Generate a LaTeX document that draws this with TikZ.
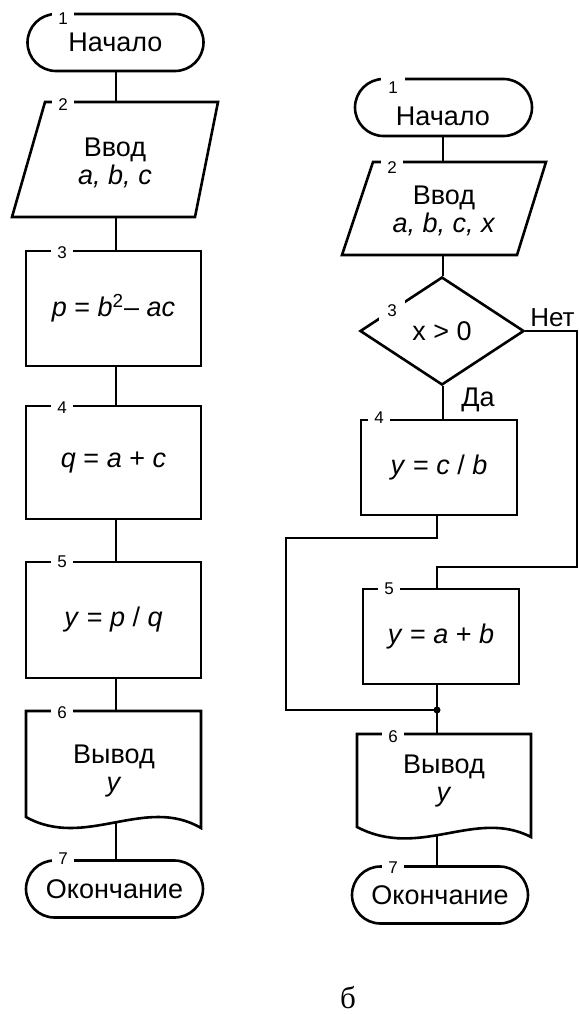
\documentclass[tikz,border=0pt]{standalone}
\usepackage{fontspec}
\setmainfont{Liberation Sans}
\newfontfamily\capserif{Liberation Serif}
\usetikzlibrary{shapes.misc,shapes.geometric}
\newcommand\mainsz{\fontsize{27}{28}\selectfont}
\newcommand\numsz{\fontsize{17}{17}\selectfont}
\begin{document}
\begin{tikzpicture}[x=1pt,y=-1pt,line width=2.6pt,
  every node/.style={font=\mainsz},
  term/.style={rounded rectangle, draw, inner sep=0pt, minimum height=57pt},
  box/.style={rectangle, draw, inner sep=0pt},
  txt/.style={inner sep=0pt, align=center},
  dec/.style={diamond, draw, inner sep=0pt, minimum width=164pt, minimum height=108pt},
  num/.style={fill=white, inner xsep=6pt, inner ysep=3pt, font=\numsz}]
\useasboundingbox (0,0) rectangle (578,1014);

% ---------- left column ----------
\node[term, minimum width=176pt] (L1) at (115.5,42.5) {Начало};
\draw (45,102) -- (218,102) -- (195,217) -- (12,217) -- cycle;
\coordinate (L2t) at (116,102);
\coordinate (L2b) at (116,217);
\node[txt] (L2) at (115,162.5) {Ввод\\\textit{a, b, c}};
\node[box, minimum width=175pt, minimum height=115pt] (L3) at (113.5,308.5) {\textit{p} = \textit{b}\textsuperscript{2}\kern0.5pt– \textit{ac}};
\node[box, minimum width=175pt, minimum height=113pt] (L4) at (113.5,462.5) {\textit{q} = \textit{a} + \textit{c}};
\node[box, minimum width=175pt, minimum height=116pt] (L5) at (113.5,620) {\textit{y} = \textit{p} / \textit{q}};
\draw (26,817) -- (26,711) -- (201,711) -- (201,828) .. controls (145,795) and (85,850) .. (26,817) -- cycle;
\coordinate (L6t) at (116,711);
\coordinate (L6b) at (116,821);
\node[txt] (L6) at (114,771) {Вывод\\\textit{y}};
\node[term, minimum width=177pt] (L7) at (114.5,889) {Окончание};

\draw (L2t |- L1.south) -- (L2t);
\draw (L2b) -- (L2b |- L3.north);
\draw (L2b |- L3.south) -- (L2b |- L4.north);
\draw (L2b |- L4.south) -- (L2b |- L5.north);
\draw (L2b |- L5.south) -- (L6t);
\draw (L6b) -- (L6b |- L7.north);

\node[num] (n1) at (63,19) {1};
\node[num] (n2) at (63,104.5) {2};
\node[num] (n3) at (62,253) {3};
\node[num] (n4) at (62,408) {4};
\node[num] (n5) at (62,562) {5};
\node[num] (n6) at (62,713) {6};
\node[num] (n7) at (63,859) {7};

% ---------- right column ----------
\node[term, minimum width=177pt] (R1) at (443.5,107.5) {};
\node[txt] (R1x) at (443,116.5) {Начало};
\draw (373,162) -- (546,162) -- (517,255) -- (342,255) -- cycle;
\coordinate (R2t) at (443,162);
\coordinate (R2b) at (443,255);
\node[txt] (R2) at (444,211) {Ввод\\\textit{a, b, c, x}};
\node[dec] (R3) at (442,331) {x > 0};
\node[box, minimum width=156pt, minimum height=95pt] (R4) at (439,467.5) {\textit{y} = \textit{c} / \textit{b}};
\node[box, minimum width=156pt, minimum height=95pt] (R5) at (441,636.5) {\textit{y} = \textit{a} + \textit{b}};
\draw (357,827) -- (357,734) -- (531,734) -- (531,837) .. controls (475,808) and (420,860) .. (357,827) -- cycle;
\coordinate (R6t) at (437,734);
\coordinate (R6b) at (437,834);
\node[txt] (R6) at (444,781) {Вывод\\\textit{y}};
\node[term, minimum width=176pt] (R7) at (440,895) {Окончание};

\coordinate (tr) at (437,567);
\coordinate (edge) at (577,567);
\coordinate (bl) at (286,538);
\coordinate (j) at (437,710);

\draw (R2t |- R1.south) -- (R2t);
\draw (R2b) -- (R2b |- R3.north);
\draw (R2b |- R3.south) -- (R2b |- R4.north);
\draw (R3.east) -| (edge) -- (tr) -- (tr |- R5.north);
\draw (tr |- R4.south) -- (tr |- bl) -- (bl) -- (bl |- j) -- (j);
\draw (tr |- R5.south) -- (R6t);
\fill (j) circle (3.5pt);
\draw (R6b) -- (R6b |- R7.north);

\node[num, inner ysep=7.5pt, inner xsep=7pt] (m1) at (393,88) {1};
\node[num] (m2) at (392,168) {2};
\node[num, inner xsep=8pt, inner ysep=5pt] (m3) at (392,311) {3};
\node[num] (m4) at (379,418) {4};
\node[num] (m5) at (389,589) {5};
\node[num] (m6) at (393,737) {6};
\node[num] (m7) at (393,868) {7};

\node[anchor=base west, inner sep=0pt] (da) at (460,406) {Да};
\node[anchor=base west, inner sep=0pt, font=\fontsize{26}{26}\selectfont] (net) at (529,326) {Нет};

\node[font=\capserif\fontsize{31}{31}\selectfont, inner sep=0pt] (cap) at (348,998) {б};
\end{tikzpicture}
\end{document}
